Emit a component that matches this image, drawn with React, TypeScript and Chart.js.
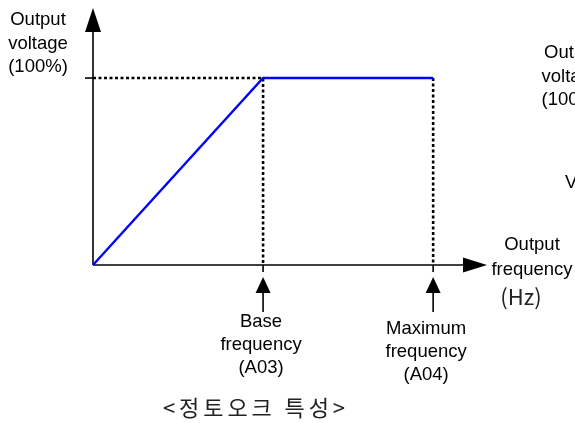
import React, { useEffect, useRef } from "react";
import { Chart, registerables } from "chart.js";

Chart.register(...registerables);

// ---- data ----
const baseFrequency = 60; // A03
const maxFrequency = 120; // A04
const ratedVoltage = 100; // 100%
const curveFreq = [0, 60, 120];
const curveVolt = [0, 100, 100];
const guideBaseFreq = [0, 60, 60];
const guideBaseVolt = [100, 100, 0];
const guideMaxFreq = [120, 120];
const guideMaxVolt = [100, 0];
const axisMaxFreq = 139;
const axisMaxVolt = 136.4;

const yAxisLabel = ["Output", "voltage", "(100%)"];
const xAxisLabel = ["Output", "frequency"];
const xAxisUnit = "(Hz)";
const baseLabel = ["Base", "frequency", "(A03)"];
const maxLabel = ["Maximum", "frequency", "(A04)"];
const caption = "<정토오크 특성>";
const cutOffLabels = ["Out", "volta", "(100", "V"];

const LATIN = '18.5px "Liberation Sans", Arial, sans-serif';
const KOR = '22px "Noto Sans CJK KR", sans-serif';

const toPts = (xs: number[], ys: number[]) => xs.map((x, i) => ({ x, y: ys[i] }));

const drawPlugin = {
  id: "vfDecor",
  beforeDatasetsDraw(chart: any) {
    const ctx = chart.ctx as CanvasRenderingContext2D;
    const xs = chart.scales.x;
    const ys = chart.scales.y;
    const x0 = xs.getPixelForValue(0);
    const y0 = ys.getPixelForValue(0);
    const xEnd = xs.getPixelForValue(axisMaxFreq);
    const yTop = ys.getPixelForValue(axisMaxVolt);
    const yRated = ys.getPixelForValue(ratedVoltage);
    ctx.save();
    ctx.strokeStyle = "#000";
    ctx.fillStyle = "#000";
    ctx.lineWidth = 1.6;
    // y axis
    ctx.beginPath();
    ctx.moveTo(x0, y0);
    ctx.lineTo(x0, yTop + 20);
    ctx.stroke();
    ctx.beginPath();
    ctx.moveTo(x0, yTop - 2);
    ctx.lineTo(x0 - 8, yTop + 22);
    ctx.lineTo(x0 + 8, yTop + 22);
    ctx.closePath();
    ctx.fill();
    // x axis
    ctx.beginPath();
    ctx.moveTo(x0, y0);
    ctx.lineTo(xEnd - 20, y0);
    ctx.stroke();
    ctx.beginPath();
    ctx.moveTo(xEnd, y0);
    ctx.lineTo(xEnd - 24, y0 - 7.5);
    ctx.lineTo(xEnd - 24, y0 + 7.5);
    ctx.closePath();
    ctx.fill();
    // tick at 100%
    ctx.beginPath();
    ctx.moveTo(x0 - 8, yRated);
    ctx.lineTo(x0, yRated);
    ctx.stroke();
    // ticks below x axis + up arrows
    [baseFrequency, maxFrequency].forEach((f) => {
      const px = xs.getPixelForValue(f);
      ctx.beginPath();
      ctx.moveTo(px, y0);
      ctx.lineTo(px, y0 + 7);
      ctx.stroke();
      ctx.beginPath();
      ctx.moveTo(px, y0 + 27);
      ctx.lineTo(px, y0 + 47);
      ctx.stroke();
      ctx.beginPath();
      ctx.moveTo(px, y0 + 12);
      ctx.lineTo(px - 7.5, y0 + 28);
      ctx.lineTo(px + 7.5, y0 + 28);
      ctx.closePath();
      ctx.fill();
    });
    ctx.restore();
  },
  afterDraw(chart: any) {
    const ctx = chart.ctx as CanvasRenderingContext2D;
    const xs = chart.scales.x;
    const ys = chart.scales.y;
    const x0 = xs.getPixelForValue(0);
    const y0 = ys.getPixelForValue(0);
    const xEnd = xs.getPixelForValue(axisMaxFreq);
    const pxBase = xs.getPixelForValue(baseFrequency);
    const pxMax = xs.getPixelForValue(maxFrequency);
    ctx.save();
    ctx.textBaseline = "middle";
    ctx.textAlign = "center";
    ctx.fillStyle = "#000";
    ctx.font = LATIN;
    yAxisLabel.forEach((t, i) => ctx.fillText(t, x0 - 55, 20 + i * 23.5));
    xAxisLabel.forEach((t, i) => ctx.fillText(t, xEnd + 45, y0 - 20 + i * 25));
    baseLabel.forEach((t, i) => ctx.fillText(t, pxBase - 2, y0 + 57 + i * 23));
    maxLabel.forEach((t, i) => ctx.fillText(t, pxMax - 7, y0 + 64 + i * 23));
    ctx.textAlign = "left";
    ctx.fillText(cutOffLabels[0], 544, 53);
    ctx.fillText(cutOffLabels[1], 541.5, 77);
    ctx.fillText(cutOffLabels[2], 541.5, 100);
    ctx.fillText(cutOffLabels[3], 565, 183);
    // Korean-font texts
    ctx.font = KOR;
    ctx.fillStyle = "#222";
    ctx.textAlign = "center";
    ctx.fillText(xAxisUnit, xEnd + 34, y0 + 32);
    const chars = Array.from(caption);
    const targetW = 182;
    const natural = ctx.measureText(caption).width;
    const gap = Math.max(0, (targetW - natural) / (chars.length - 1));
    let cx = 163;
    ctx.textAlign = "left";
    chars.forEach((c) => {
      ctx.fillText(c, cx, y0 + 143);
      cx += ctx.measureText(c).width + gap;
    });
    ctx.restore();
  },
};

export default function App() {
  const ref = useRef<HTMLCanvasElement | null>(null);
  useEffect(() => {
    if (!ref.current) return;
    const chart = new Chart(ref.current, {
      type: "scatter",
      data: {
        datasets: [
          {
            label: "V/f",
            data: toPts(curveFreq, curveVolt),
            showLine: true,
            borderColor: "#0000ff",
            borderWidth: 2.4,
            pointRadius: 0,
            clip: false,
            order: 0,
          } as any,
          {
            label: "guide base",
            data: toPts(guideBaseFreq, guideBaseVolt),
            showLine: true,
            borderColor: "#000",
            borderWidth: 2.6,
            borderDash: [3, 2.5],
            pointRadius: 0,
            clip: false,
            order: 1,
          } as any,
          {
            label: "guide max",
            data: toPts(guideMaxFreq, guideMaxVolt),
            showLine: true,
            borderColor: "#000",
            borderWidth: 2.6,
            borderDash: [3, 2.5],
            pointRadius: 0,
            clip: false,
            order: 1,
          } as any,
        ],
      },
      options: {
        responsive: false,
        animation: false,
        devicePixelRatio: 1,
        layout: { padding: { left: 93, right: 88, top: 10, bottom: 158 } },
        plugins: { legend: { display: false }, tooltip: { enabled: false } },
        scales: {
          x: { type: "linear", min: 0, max: axisMaxFreq, display: false },
          y: { type: "linear", min: 0, max: axisMaxVolt, display: false },
        },
      },
      plugins: [drawPlugin],
    });
    return () => chart.destroy();
  }, []);
  return (
    <div style={{ position: "absolute", left: 0, top: 0, width: 575, height: 423, background: "#fff" }}>
      <canvas ref={ref} width={575} height={423} style={{ width: 575, height: 423 }} />
    </div>
  );
}
